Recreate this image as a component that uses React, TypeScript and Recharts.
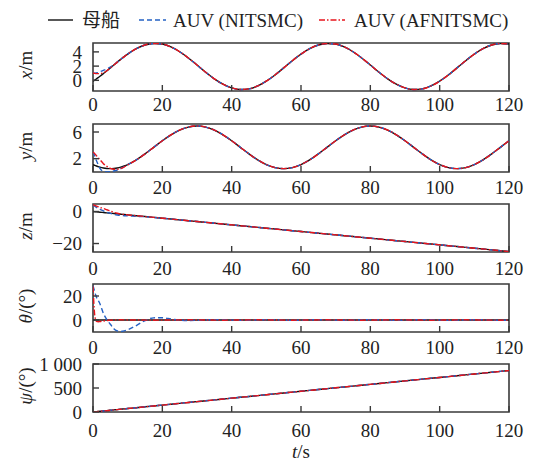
import React from 'react';
import { LineChart, Line, XAxis, YAxis, ReferenceArea } from 'recharts';

// Sample times (s): dense at the start to follow the initial transients.
const time = [
  0, 0.25, 0.5, 1, 1.5, 2, 3, 4, 5, 6, 7, 8, 9, 10,
  12.5, 15, 17.5, 20, 22.5, 25, 27.5, 30, 32.5, 35, 37.5, 40, 42.5, 45, 47.5, 50,
  52.5, 55, 57.5, 60, 62.5, 65, 67.5, 70, 72.5, 75, 77.5, 80, 82.5, 85, 87.5, 90,
  92.5, 95, 97.5, 100, 102.5, 105, 107.5, 110, 112.5, 115, 117.5, 120,
];
const timeTicks = [0, 20, 40, 60, 80, 100, 120];

// Mother ship (母船) trajectory
const shipX = [
  -0.12, -0.04, 0.04, 0.21, 0.38, 0.57, 0.95, 1.34, 1.75, 2.15, 2.56, 2.95, 3.33, 3.69,
  4.45, 4.97, 5.19, 5.1, 4.69, 4.02, 3.15, 2.15, 1.14, 0.21, -0.55, -1.07, -1.29, -1.2, -0.79, -0.12,
  0.75, 1.75, 2.76, 3.69, 4.45, 4.97, 5.19, 5.1, 4.69, 4.02, 3.15, 2.15, 1.14, 0.21, -0.55, -1.07,
  -1.29, -1.2, -0.79, -0.12, 0.75, 1.75, 2.76, 3.69, 4.45, 4.97, 5.19, 5.1,
];
const shipY = [
  1.11, 1.05, 1.0, 0.9, 0.8, 0.72, 0.6, 0.53, 0.5, 0.53, 0.6, 0.72, 0.9, 1.11,
  1.82, 2.71, 3.7, 4.69, 5.58, 6.29, 6.74, 6.9, 6.74, 6.29, 5.58, 4.69, 3.7, 2.71, 1.82, 1.11,
  0.66, 0.5, 0.66, 1.11, 1.82, 2.71, 3.7, 4.69, 5.58, 6.29, 6.74, 6.9, 6.74, 6.29, 5.58, 4.69,
  3.7, 2.71, 1.82, 1.11, 0.66, 0.5, 0.66, 1.11, 1.82, 2.71, 3.7, 4.69,
];
const shipZ = [
  0, -0.05, -0.1, -0.21, -0.31, -0.42, -0.63, -0.83, -1.04, -1.25, -1.46, -1.67, -1.88, -2.08,
  -2.6, -3.13, -3.65, -4.17, -4.69, -5.21, -5.73, -6.25, -6.77, -7.29, -7.81, -8.33, -8.85, -9.38, -9.9, -10.42,
  -10.94, -11.46, -11.98, -12.5, -13.02, -13.54, -14.06, -14.58, -15.1, -15.63, -16.15, -16.67, -17.19, -17.71, -18.23, -18.75,
  -19.27, -19.79, -20.31, -20.83, -21.35, -21.88, -22.4, -22.92, -23.44, -23.96, -24.48, -25.0,
];
const shipTheta = time.map(() => 0);
const shipPsi = [
  0, 1.8, 3.6, 7.2, 10.8, 14.4, 21.6, 28.8, 36, 43.2, 50.4, 57.6, 64.8, 72,
  90, 108, 126, 144, 162, 180, 198, 216, 234, 252, 270, 288, 306, 324, 342, 360,
  378, 396, 414, 432, 450, 468, 486, 504, 522, 540, 558, 576, 594, 612, 630, 648,
  666, 684, 702, 720, 738, 756, 774, 792, 810, 828, 846, 864,
];

// AUV responses during the start-up transient; afterwards they track the ship.
const nitsmcXHead = [1.0, 1.0, 1.0, 1.05, 1.1, 1.2, 1.4, 1.6, 1.85, 2.18];
const afnitsmcXHead = [1.0, 1.0, 0.98, 0.95, 0.94, 0.96, 1.05, 1.35, 1.75, 2.15];

const nitsmcYHead = [3.0, 2.7, 2.4, 1.7, 1.1, 0.55, 0.1, 0.02, 0.05, 0.15, 0.3, 0.5, 0.8, 1.1];
const afnitsmcYHead = [3.0, 2.9, 2.75, 2.45, 2.15, 1.85, 1.25, 0.85, 0.55, 0.42, 0.42, 0.5, 0.75, 1.05];

const nitsmcZHead = [4.0, 3.6, 3.3, 2.6, 2.0, 1.4, 0.4, -0.5, -1.2, -1.8, -2.2, -2.5, -2.6, -2.7, -3.0, -3.25];
const afnitsmcZHead = [4.2, 4.0, 3.8, 3.4, 3.0, 2.6, 1.9, 1.1, 0.3, -0.5, -1.1, -1.6, -1.9, -2.1];

const nitsmcTheta = [
  28.5, 26, 23.5, 19, 16.5, 13.5, 5.5, 0.3, -3.5, -7.2, -9.0, -9.5, -9.1, -8.2,
  -4.6, -0.5, 1.8, 1.9, 0.8, -0.1, -0.4, -0.3, 0.1, 0.3, 0.2, -0.1, -0.3, -0.2, 0.1, 0.3,
  0.2, -0.1, -0.3, -0.2, 0.1, 0.25, 0.2, -0.1, -0.25, -0.2, 0.1, 0.3, 0.2, -0.1, -0.3, -0.15,
  0.1, 0.3, 0.2, -0.1, -0.3, -0.2, 0.1, 0.25, 0.2, -0.1, -0.3, -0.2,
];
const afnitsmcTheta = [
  28, 14, 4, -1.2, -1.5, -1.3, -0.8, -0.4, -0.2, 0, 0.1, 0.15, 0.1, 0.05,
  0, -0.1, -0.15, -0.1, 0, 0.1, 0.15, 0.1, 0, -0.1, -0.15, -0.1, 0, 0.1, 0.15, 0.1,
  0, -0.1, -0.15, -0.1, 0, 0.1, 0.15, 0.1, 0, -0.1, -0.15, -0.1, 0, 0.1, 0.15, 0.1,
  0, -0.1, -0.15, -0.1, 0, 0.1, 0.15, 0.1, 0, -0.1, -0.15, -0.1,
];

const nitsmcPsiHead = [-2, -1, 0.5, 4, 8, 12.5, 20.5, 28.5, 36];
const afnitsmcPsiHead = [1, 2.5, 4, 7.5, 11, 14.5, 21.5, 28.8];

const follow = (head: number[], base: number[]) => [...head, ...base.slice(head.length)];

const FONT = '"Liberation Serif", "Times New Roman", serif';
const AXIS = '#3a3a3a';
const TEXT = '#222';
const BLACK = '#111';
const BLUE = '#2461c4';
const RED = '#e8141c';

const PLOT_H = 48;
const PAD_TOP = 14;
const AXIS_H = 30;

type Panel = {
  id: string;
  top: number;
  gap: number;
  domain: [number, number];
  ticks: number[];
  ship: number[];
  nitsmc: number[];
  afnitsmc: number[];
  sym: string;
  unit: string;
  format?: (v: number) => string;
};

const fmtNum = (v: number) => (v < 0 ? '\u2212' + Math.abs(v) : String(v));
const fmtThousands = (v: number) => (v >= 1000 ? `${Math.floor(v / 1000)} ${String(v % 1000).padStart(3, '0')}` : String(v));

const panels: Panel[] = [
  { id: 'x', top: 43, gap: 13, domain: [-1.5, 5.25], ticks: [0, 2, 4], ship: shipX, nitsmc: follow(nitsmcXHead, shipX), afnitsmc: follow(afnitsmcXHead, shipX), sym: 'x', unit: '/m' },
  { id: 'y', top: 124, gap: 15, domain: [0, 7.2], ticks: [2, 6], ship: shipY, nitsmc: follow(nitsmcYHead, shipY), afnitsmc: follow(afnitsmcYHead, shipY), sym: 'y', unit: '/m' },
  { id: 'z', top: 204, gap: 16, domain: [-25.3, 4.7], ticks: [-20, 0], ship: shipZ, nitsmc: follow(nitsmcZHead, shipZ), afnitsmc: follow(afnitsmcZHead, shipZ), sym: 'z', unit: '/m' },
  { id: 'theta', top: 284, gap: 15, domain: [-10, 30], ticks: [0, 20], ship: shipTheta, nitsmc: nitsmcTheta, afnitsmc: afnitsmcTheta, sym: '\u03b8', unit: '/(\u00b0)' },
  { id: 'psi', top: 364, gap: 18, domain: [0, 1000], ticks: [0, 500, 1000], ship: shipPsi, nitsmc: follow(nitsmcPsiHead, shipPsi), afnitsmc: follow(afnitsmcPsiHead, shipPsi), sym: '\u03c8', unit: '/(\u00b0)', format: fmtThousands },
];

const makeXTick = (gap: number) => (props: any) => {
  const { x, y, payload } = props;
  return (
    <g>
      <line x1={x} x2={x} y1={y} y2={y - 6} stroke={AXIS} strokeWidth={1.4} />
      <text x={x} y={y + gap} dy="0.35em" textAnchor="middle" fontSize={19} fontFamily={FONT} fill={TEXT}>
        {payload.value}
      </text>
    </g>
  );
};

const makeYTick = (format: (v: number) => string) => (props: any) => {
  const { x, y, payload } = props;
  return (
    <g>
      <line x1={x} x2={x + 6} y1={y} y2={y} stroke={AXIS} strokeWidth={1.4} />
      <text x={x - 11} y={y} dy="0.35em" textAnchor="end" fontSize={19} fontFamily={FONT} fill={TEXT}>
        {format(payload.value)}
      </text>
    </g>
  );
};

function PanelChart({ panel }: { panel: Panel }) {
  const rows = time.map((t, i) => ({
    t,
    ship: panel.ship[i],
    nitsmc: panel.nitsmc[i],
    afnitsmc: panel.afnitsmc[i],
  }));
  return (
    <div style={{ position: 'absolute', left: 0, top: panel.top - PAD_TOP }}>
      <LineChart
        width={543}
        height={PAD_TOP + PLOT_H + AXIS_H}
        data={rows}
        margin={{ top: PAD_TOP, right: 34, bottom: 0, left: 0 }}
      >
        <XAxis
          dataKey="t"
          type="number"
          domain={[0, 120]}
          ticks={timeTicks}
          interval={0}
          height={AXIS_H}
          axisLine={false}
          tickLine={false}
          tickSize={0}
          tickMargin={0}
          allowDataOverflow
          tick={makeXTick(panel.gap)}
        />
        <YAxis
          type="number"
          domain={panel.domain}
          ticks={panel.ticks}
          interval={0}
          width={93}
          axisLine={false}
          tickLine={false}
          tickSize={0}
          tickMargin={0}
          allowDataOverflow
          tick={makeYTick(panel.format || fmtNum)}
        />
        <ReferenceArea
          x1={0}
          x2={120}
          y1={panel.domain[0]}
          y2={panel.domain[1]}
          fill="none"
          stroke={AXIS}
          strokeWidth={1.6}
          ifOverflow="visible"
        />
        <Line type="monotone" dataKey="ship" stroke={BLACK} strokeWidth={1.4} dot={false} isAnimationActive={false} />
        <Line type="monotone" dataKey="nitsmc" stroke={BLUE} strokeWidth={1.4} strokeDasharray="5 3" dot={false} isAnimationActive={false} />
        <Line type="monotone" dataKey="afnitsmc" stroke={RED} strokeWidth={1.4} strokeDasharray="6 2 1.5 2" dot={false} isAnimationActive={false} />
      </LineChart>
    </div>
  );
}

export default function App() {
  return (
    <div style={{ position: 'absolute', left: 0, top: 0, width: 543, height: 462, background: '#fff', fontFamily: FONT }}>
      {panels.map((p) => (
        <PanelChart key={p.id} panel={p} />
      ))}
      <svg width={543} height={462} style={{ position: 'absolute', left: 0, top: 0, pointerEvents: 'none' }}>
        {/* legend */}
        <line x1={48} x2={73} y1={20} y2={20} stroke={BLACK} strokeWidth={1.4} />
        <text x={82} y={26.5} fontSize={19} fontFamily='"Noto Sans CJK SC", sans-serif' fill={TEXT}>母船</text>
        <line x1={139} x2={166} y1={20} y2={20} stroke={BLUE} strokeWidth={1.4} strokeDasharray="5 3" />
        <text x={173} y={26.5} fontSize={19} fontFamily={FONT} fill={TEXT}>AUV (NITSMC)</text>
        <line x1={319} x2={345} y1={20} y2={20} stroke={RED} strokeWidth={1.4} strokeDasharray="6 2 1.5 2" />
        <text x={354} y={26.5} fontSize={19} fontFamily={FONT} fill={TEXT}>AUV (AFNITSMC)</text>

        {/* axis titles */}
        {panels.map((p) => (
          <text
            key={p.id}
            transform={`translate(25, ${p.top + PLOT_H / 2 - 2}) rotate(-90)`}
            textAnchor="middle"
            dominantBaseline="central"
            fontSize={19}
            fontFamily={FONT}
            fill={TEXT}
          >
            <tspan fontStyle="italic">{p.sym}</tspan>
            {p.unit}
          </text>
        ))}
        <text x={301} y={458} textAnchor="middle" fontSize={19} fontFamily={FONT} fill={TEXT}>
          <tspan fontStyle="italic">t</tspan>/s
        </text>
      </svg>
    </div>
  );
}
